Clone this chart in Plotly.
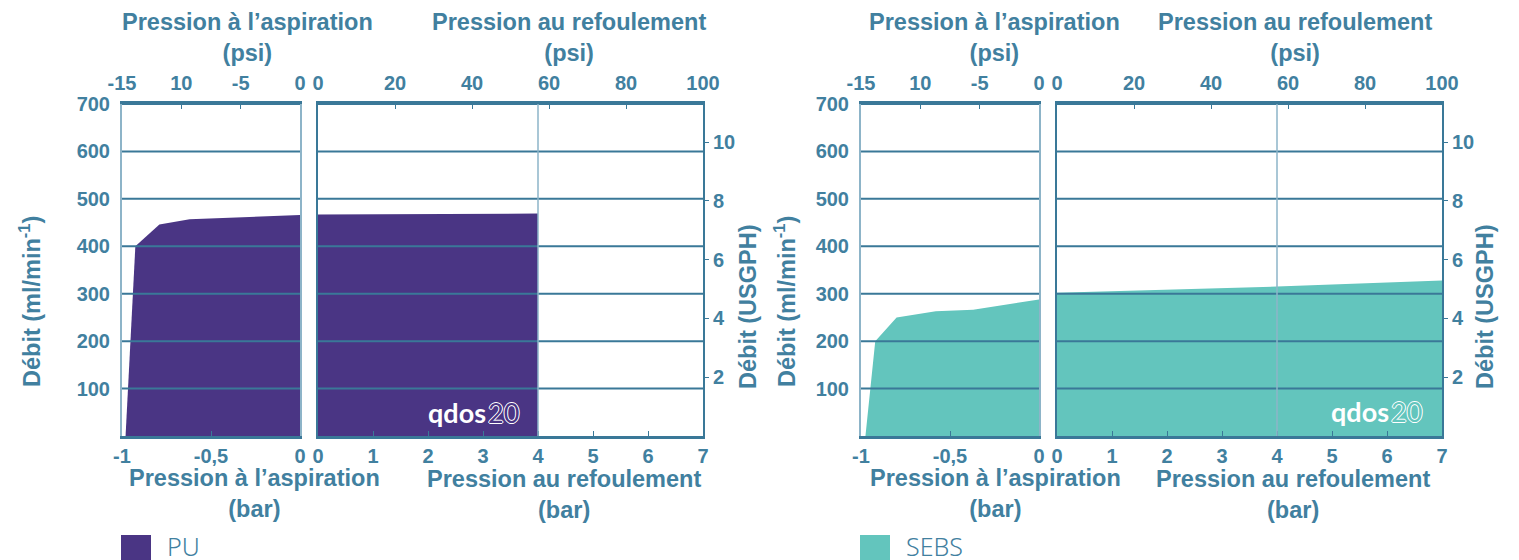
import plotly.graph_objects as go

# ---------------- data ----------------
PU_SUCTION_BAR = [-0.98, -0.925, -0.79, -0.62, 0.0]
PU_SUCTION_FLOW = [0, 400, 446, 457, 466]
PU_DISCHARGE_BAR = [0.0, 4.0]
PU_DISCHARGE_FLOW = [467, 469]

SEBS_SUCTION_BAR = [-0.975, -0.92, -0.80, -0.58, -0.37, 0.0]
SEBS_SUCTION_FLOW = [0, 200, 250, 263, 266, 288]
SEBS_DISCHARGE_BAR = [0.0, 4.0, 7.0]
SEBS_DISCHARGE_FLOW = [302, 315, 328]

FLOW_TICKS = [100, 200, 300, 400, 500, 600, 700]
USGPH_TICKS = [2, 4, 6, 8, 10]
SUCTION_BAR_TICKS = [-1, -0.5, 0]
SUCTION_BAR_TEXT = ["-1", "-0,5", "0"]
DISCHARGE_BAR_TICKS = [0, 1, 2, 3, 4, 5, 6, 7]
SUCTION_PSI_TICKS = [-15, -10, -5, 0]
SUCTION_PSI_TEXT = ["-15", "10", "-5", "0"]
DISCHARGE_PSI_TICKS = [0, 20, 40, 60, 80, 100]
MARKER_BAR = 4

SERIES = ["PU", "SEBS"]
COLORS = ["#4a3584", "#63c5bd"]

# ---------------- style ----------------
W, H = 1519, 560
OFF = 8  # page body margin
TXT = "#41809f"
DARK = "#3a7898"
LIGHT = "#8db4c8"
FONT = "Liberation Sans"


def px(x):
    return (x - OFF) / W


def py(y):
    return 1 - (y - OFF) / H


YDOM = [py(436), py(104)]
CHARTS = [
    dict(suc=(122, 300), dis=(318, 703), top=(247, 569), bot=(254, 564),
         ylt=30, yrt=748, leg=121, logo=(488, 412)),
    dict(suc=(861, 1039), dis=(1057, 1442), top=(995, 1295), bot=(996, 1293),
         ylt=785, yrt=1485, leg=860, logo=(1391, 411)),
]
DATA = [
    (PU_SUCTION_BAR, PU_SUCTION_FLOW, PU_DISCHARGE_BAR, PU_DISCHARGE_FLOW),
    (SEBS_SUCTION_BAR, SEBS_SUCTION_FLOW, SEBS_DISCHARGE_BAR, SEBS_DISCHARGE_FLOW),
]

fig = go.Figure()
layout = dict(
    width=W, height=H, margin=dict(l=0, r=0, t=0, b=0, autoexpand=False),
    paper_bgcolor="white", plot_bgcolor="rgba(0,0,0,0)",
    showlegend=False, font=dict(family=FONT, color=TXT),
)
shapes = []
annotations = []

tickfont = dict(family=FONT, size=20, color=TXT, weight="bold")
titlefont = dict(family=FONT, size=23.5, color=TXT, weight="bold")


def note(text, x, y, font, **kw):
    d = dict(text=text, x=px(x), y=py(y), xref="paper", yref="paper", showarrow=False,
             xanchor="center", yanchor="middle", font=font)
    d.update(kw)
    return d


for i, c in enumerate(CHARTS):
    b = i * 6
    xs, xps, xd, xpd = (f"x{b+1 if b else ''}", f"x{b+2}", f"x{b+3}", f"x{b+4}")
    ys, yd, yu = (f"y{b+1 if b else ''}", f"y{b+3}", f"y{b+4}")
    k = lambda s: s.replace("x", "xaxis").replace("y", "yaxis")
    sb, sf, db, df = DATA[i]
    col = COLORS[i]

    fig.add_trace(go.Scatter(x=sb, y=sf, xaxis=xs, yaxis=ys, mode="lines",
                             fill="tozeroy", fillcolor=col, line=dict(width=0, color=col),
                             name=SERIES[i], hoverinfo="skip"))
    fig.add_trace(go.Scatter(x=db, y=df, xaxis=xd, yaxis=yd, mode="lines",
                             fill="tozeroy", fillcolor=col, line=dict(width=0, color=col),
                             name=SERIES[i], hoverinfo="skip"))
    # placeholder traces so the secondary axes are drawn
    fig.add_trace(go.Scatter(x=[-15, 0], y=[None, None], xaxis=xps, yaxis=ys, hoverinfo="skip"))
    fig.add_trace(go.Scatter(x=[0, 100], y=[None, None], xaxis=xpd, yaxis=yd, hoverinfo="skip"))
    fig.add_trace(go.Scatter(x=[0, 7], y=[None, None], xaxis=xd, yaxis=yu, hoverinfo="skip"))

    common_x = dict(showgrid=False, zeroline=False, fixedrange=True, tickfont=tickfont,
                    showline=True, linecolor=DARK, linewidth=3, ticks="inside",
                    ticklen=5, tickcolor=DARK, tickwidth=1, automargin=False)
    layout[k(xs)] = dict(common_x, domain=[px(c["suc"][0]), px(c["suc"][1])],
                         anchor=ys, range=[-1, 0], tickvals=SUCTION_BAR_TICKS,
                         ticktext=SUCTION_BAR_TEXT, side="bottom")
    layout[k(xps)] = dict(common_x, overlaying=xs, anchor=ys, side="top",
                          range=[-15, 0], tickvals=SUCTION_PSI_TICKS,
                          ticktext=SUCTION_PSI_TEXT, ticklabelstandoff=3)
    layout[k(xd)] = dict(common_x, domain=[px(c["dis"][0]), px(c["dis"][1])],
                         anchor=yd, range=[0, 7], tickvals=DISCHARGE_BAR_TICKS, side="bottom")
    layout[k(xpd)] = dict(common_x, overlaying=xd, anchor=yd, side="top",
                          range=[0, 100], tickvals=DISCHARGE_PSI_TICKS, ticklabelstandoff=3)
    layout[k(ys)] = dict(domain=YDOM, anchor=xs, range=[0, 700], tickvals=FLOW_TICKS,
                         showgrid=False, zeroline=False, fixedrange=True, automargin=False,
                         showline=True, linecolor=LIGHT, linewidth=2, mirror=True,
                         ticks="", tickfont=tickfont, ticklabelstandoff=6)
    layout[k(yd)] = dict(domain=YDOM, anchor=xd, range=[0, 700], showticklabels=False,
                         showgrid=False, zeroline=False, fixedrange=True, automargin=False,
                         showline=True, linecolor=DARK, linewidth=2, ticks="")
    layout[k(yu)] = dict(overlaying=yd, anchor=xd, side="right", range=[0, 11.3],
                         tickvals=USGPH_TICKS, showgrid=False, zeroline=False,
                         fixedrange=True, showline=True, linecolor=DARK, linewidth=2,
                         automargin=False,
                         ticks="outside", ticklen=4, tickcolor=DARK, tickfont=tickfont)

    # grid lines drawn above the filled areas
    for v in FLOW_TICKS:
        for xa, ya in ((xs, ys), (xd, yd)):
            shapes.append(dict(type="line", xref=f"{xa} domain", yref=ya,
                               x0=0, x1=1, y0=v, y1=v, layer="above",
                               line=dict(color=DARK, width=2)))
    shapes.append(dict(type="line", xref=xd, yref=f"{yd} domain", x0=MARKER_BAR,
                       x1=MARKER_BAR, y0=0, y1=1, layer="above",
                       line=dict(color=LIGHT, width=1.5)))

    annotations += [
        note("Pression à l’aspiration<br>(psi)", c["top"][0], 37, titlefont),
        note("Pression au refoulement<br>(psi)", c["top"][1], 37, titlefont),
        note("Pression à l’aspiration<br>(bar)", c["bot"][0], 493, titlefont),
        note("Pression au refoulement<br>(bar)", c["bot"][1], 494, titlefont),
        note("Débit (ml/min<sup>-1</sup>)", c["ylt"], 302, titlefont, textangle=-90),
        note("Débit (USGPH)", c["yrt"], 307, titlefont, textangle=-90),
    ]
    lx, ly = c["logo"]
    annotations += [
        note("qdos", lx, ly, dict(family="Lato", size=27, color="white", weight="bold"),
             xanchor="right"),
        note("20", lx - 2, ly,
             dict(family="Lato", size=27, color=col,
                  shadow="1px 0 0 #fff, -1px 0 0 #fff, 0 1px 0 #fff, 0 -1px 0 #fff"),
             xanchor="left"),
    ]
    lg = c["leg"]
    shapes.append(dict(type="rect", xref="paper", yref="paper", x0=px(lg), x1=px(lg + 30),
                       y0=py(570), y1=py(535), fillcolor=col, line=dict(width=0)))
    annotations.append(note(SERIES[i], lg + 44, 546,
                            dict(family="Noto Sans", size=25, color=TXT, weight=300),
                            xanchor="left"))

layout["shapes"] = shapes
layout["annotations"] = annotations
fig.update_layout(**layout)
fig.write_html("out.html")
